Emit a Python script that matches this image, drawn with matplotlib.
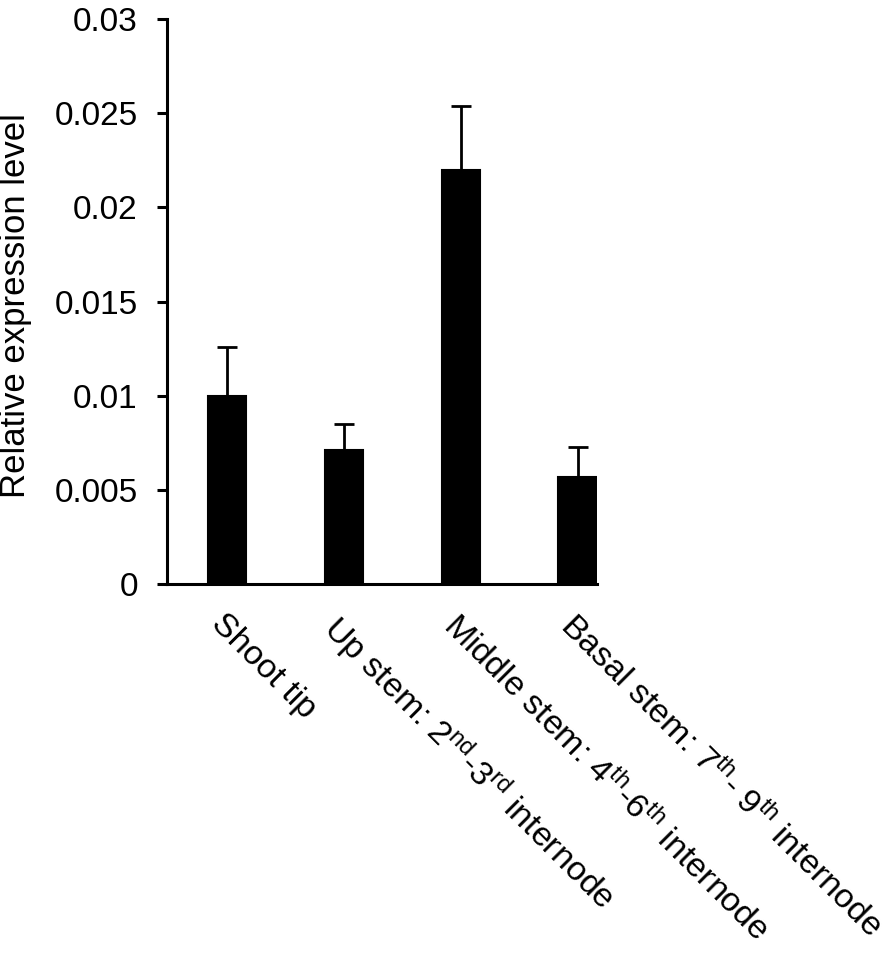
import matplotlib
matplotlib.use("Agg")
import matplotlib.pyplot as plt
import matplotlib.transforms as mtransforms
import numpy as np

plt.rcParams['font.family'] = ['Liberation Sans', 'DejaVu Sans']
plt.rcParams['mathtext.fontset'] = 'custom'
plt.rcParams['mathtext.rm'] = 'Liberation Sans'
plt.rcParams['mathtext.it'] = 'Liberation Sans:italic'
plt.rcParams['mathtext.bf'] = 'Liberation Sans:bold'

categories = [
    "Shoot tip",
    "Up stem: 2$^{\\rm nd}$-3$^{\\rm rd}$ internode",
    "Middle stem: 4$^{\\rm th}$-6$^{\\rm th}$ internode",
    "Basal stem: 7$^{\\rm th}$- 9$^{\\rm th}$ internode",
]
values = [0.0100, 0.0071, 0.0220, 0.0057]
errors = [0.0026, 0.0014, 0.0034, 0.0016]
yticks = [0, 0.005, 0.01, 0.015, 0.02, 0.025, 0.03]
ytick_labels = ["0", "0.005", "0.01", "0.015", "0.02", "0.025", "0.03"]

fig = plt.figure(figsize=(8.94, 9.56), dpi=100)
ax = fig.add_axes([167/894, 1-584/956, (597-167)/894, (584-19)/956])

x = np.arange(len(categories))
ax.bar(x, values, width=0.33, color='black', edgecolor='black', linewidth=1.5)
ax.errorbar(x, values, yerr=[np.zeros(len(errors)), errors], fmt='none',
            ecolor='black', elinewidth=2, capsize=7, capthick=2)

ax.set_ylim(0, 0.03)
ax.set_xlim(-0.515, 3.165)
ax.set_yticks(yticks)
ax.set_yticklabels(ytick_labels, fontsize=24)
ax.tick_params(axis='y', direction='out', length=7, width=2.2, pad=14)
ax.set_xticks(x)
ax.set_xticklabels([])
ax.tick_params(axis='x', length=0)

for s in ['top', 'right']:
    ax.spines[s].set_visible(False)
for s in ['left', 'bottom']:
    ax.spines[s].set_linewidth(2.2)

offset = mtransforms.ScaledTranslation(0/100, -24/100, fig.dpi_scale_trans)
for xi, lab in zip(x, categories):
    ax.text(xi, 0, lab, transform=ax.get_xaxis_transform() + offset,
            rotation=-45, rotation_mode='anchor', ha='left', va='top',
            fontsize=24.5)

ax.set_ylabel("Relative expression level", fontsize=25)
ax.yaxis.set_label_coords(-0.314, 0.493)

fig.savefig("out.png", dpi=100)
